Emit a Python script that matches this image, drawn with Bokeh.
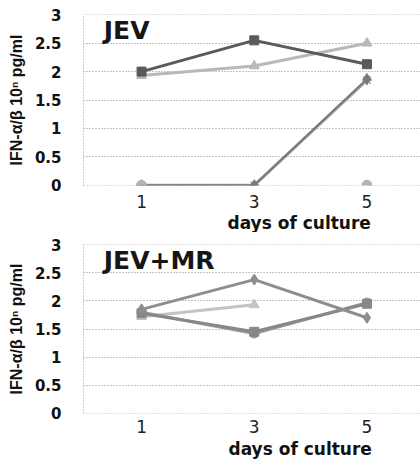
from bokeh.plotting import figure
from bokeh.layouts import column
from bokeh.models import FixedTicker, Label, Title
from bokeh.embed import file_html
from bokeh.resources import INLINE

nan = float("nan")

days = [1, 3, 5]
x_tick_labels = ["1", "3", "5"]
y_ticks = [0, 0.5, 1, 1.5, 2, 2.5, 3]
y_tick_labels = ["0", "0.5", "1", "1.5", "2", "2.5", "3"]

# JEV panel
jev_circle = [0.0, nan, 0.0]
jev_triangle = [1.93, 2.10, 2.50]
jev_square = [2.00, 2.55, 2.13]
jev_star = [0.0, 0.0, 1.85]
jev_diamond = [0.0, 0.0, 1.87]

# JEV+MR panel
mr_triangle = [1.72, 1.93, nan]
mr_circle = [1.80, 1.42, 1.97]
mr_square = [1.78, 1.45, 1.95]
mr_diamond = [1.85, 2.38, 1.70]

BOLD_FONT = "DejaVu Sans"
LABEL_FONT = "Liberation Sans"
Y_LABEL = "IFN-\u03b1/\u03b2 10\u207f pg/ml"
X_LABEL = "days of culture"


def make_panel(title, series, height, b_top, b_bottom, tick_standoff,
               xl_offset, xl_standoff):
    p = figure(width=420, height=height, output_backend="svg",
               toolbar_location=None, x_range=(-0.03, 5.95),
               y_range=(-0.005, 3.005),
               min_border_left=83, min_border_right=0,
               min_border_top=b_top, min_border_bottom=b_bottom)
    p.outline_line_color = None
    p.background_fill_color = "white"
    p.border_fill_color = "white"

    p.xgrid.grid_line_color = None
    p.ygrid.ticker = FixedTicker(ticks=y_ticks)
    p.ygrid.grid_line_color = "#8c8c8c"
    p.ygrid.grid_line_dash = "1 2"
    p.ygrid.grid_line_width = 1

    p.yaxis.ticker = FixedTicker(ticks=y_ticks)
    p.yaxis.major_label_overrides = {t: s for t, s in zip(y_ticks, y_tick_labels)}
    p.yaxis.major_label_text_font = BOLD_FONT
    p.yaxis.major_label_text_font_style = "bold"
    p.yaxis.major_label_text_font_size = "15px"
    p.yaxis.major_label_text_color = "#111111"
    p.yaxis.major_tick_line_color = None
    p.yaxis.minor_tick_line_color = None
    p.yaxis.major_label_standoff = 16
    p.yaxis.axis_line_color = "#9a9a9a"
    p.yaxis.axis_line_dash = "1 2"
    p.yaxis.axis_label = Y_LABEL
    p.yaxis.axis_label_text_font = LABEL_FONT
    p.yaxis.axis_label_text_font_style = "bold"
    p.yaxis.axis_label_text_font_size = "16px"
    p.yaxis.axis_label_text_color = "#111111"
    p.yaxis.axis_label_standoff = 7

    p.xaxis.ticker = FixedTicker(ticks=days)
    p.xaxis.major_label_overrides = {d: s for d, s in zip(days, x_tick_labels)}
    p.xaxis.major_label_text_font = "DejaVu Sans"
    p.xaxis.major_label_text_font_style = "normal"
    p.xaxis.major_label_text_font_size = "17px"
    p.xaxis.major_label_text_color = "#222222"
    p.xaxis.major_tick_line_color = None
    p.xaxis.minor_tick_line_color = None
    p.xaxis.axis_line_color = None
    p.xaxis.major_label_standoff = tick_standoff

    for vals, color, lw, marker, msize in series:
        p.line(days, vals, line_color=color, line_width=lw)
        if marker == "asterisk":
            p.scatter(days, vals, marker=marker, size=msize, line_color=color,
                      line_width=2)
        else:
            p.scatter(days, vals, marker=marker, size=msize, fill_color=color,
                      line_color=color)

    p.add_layout(Label(x=0.33, y=3.0, y_offset=-1, text=title,
                       text_font=BOLD_FONT, text_font_style="bold",
                       text_font_size="25px", text_color="#161616",
                       text_baseline="top", text_align="left"))
    p.add_layout(Title(text=X_LABEL, align="left", offset=xl_offset,
                       standoff=xl_standoff, text_font=BOLD_FONT,
                       text_font_style="bold", text_font_size="17px",
                       text_color="#111111"), "below")
    return p


top = make_panel("JEV", [
    (jev_triangle, "#b8b8b8", 3, "triangle", 10),
    (jev_star, "#a8a8a8", 3, "asterisk", 10),
    (jev_diamond, "#7a7a7a", 2, "diamond", 11),
    (jev_circle, "#b4b4b4", 2, "circle", 10),
    (jev_square, "#5a5a5a", 3, "square", 9),
], 232, 14, 40, 3, 144, 0)

bottom = make_panel("JEV+MR", [
    (mr_triangle, "#c4c4c4", 3, "triangle", 10),
    (mr_circle, "#9a9a9a", 3, "circle", 9),
    (mr_square, "#888888", 3, "square", 9),
    (mr_diamond, "#8e8e8e", 3, "diamond", 11),
], 228, 12, 44, 0, 145, 3)

layout = column(top, bottom, spacing=0)
open("out.html", "w").write(file_html(layout, INLINE))
